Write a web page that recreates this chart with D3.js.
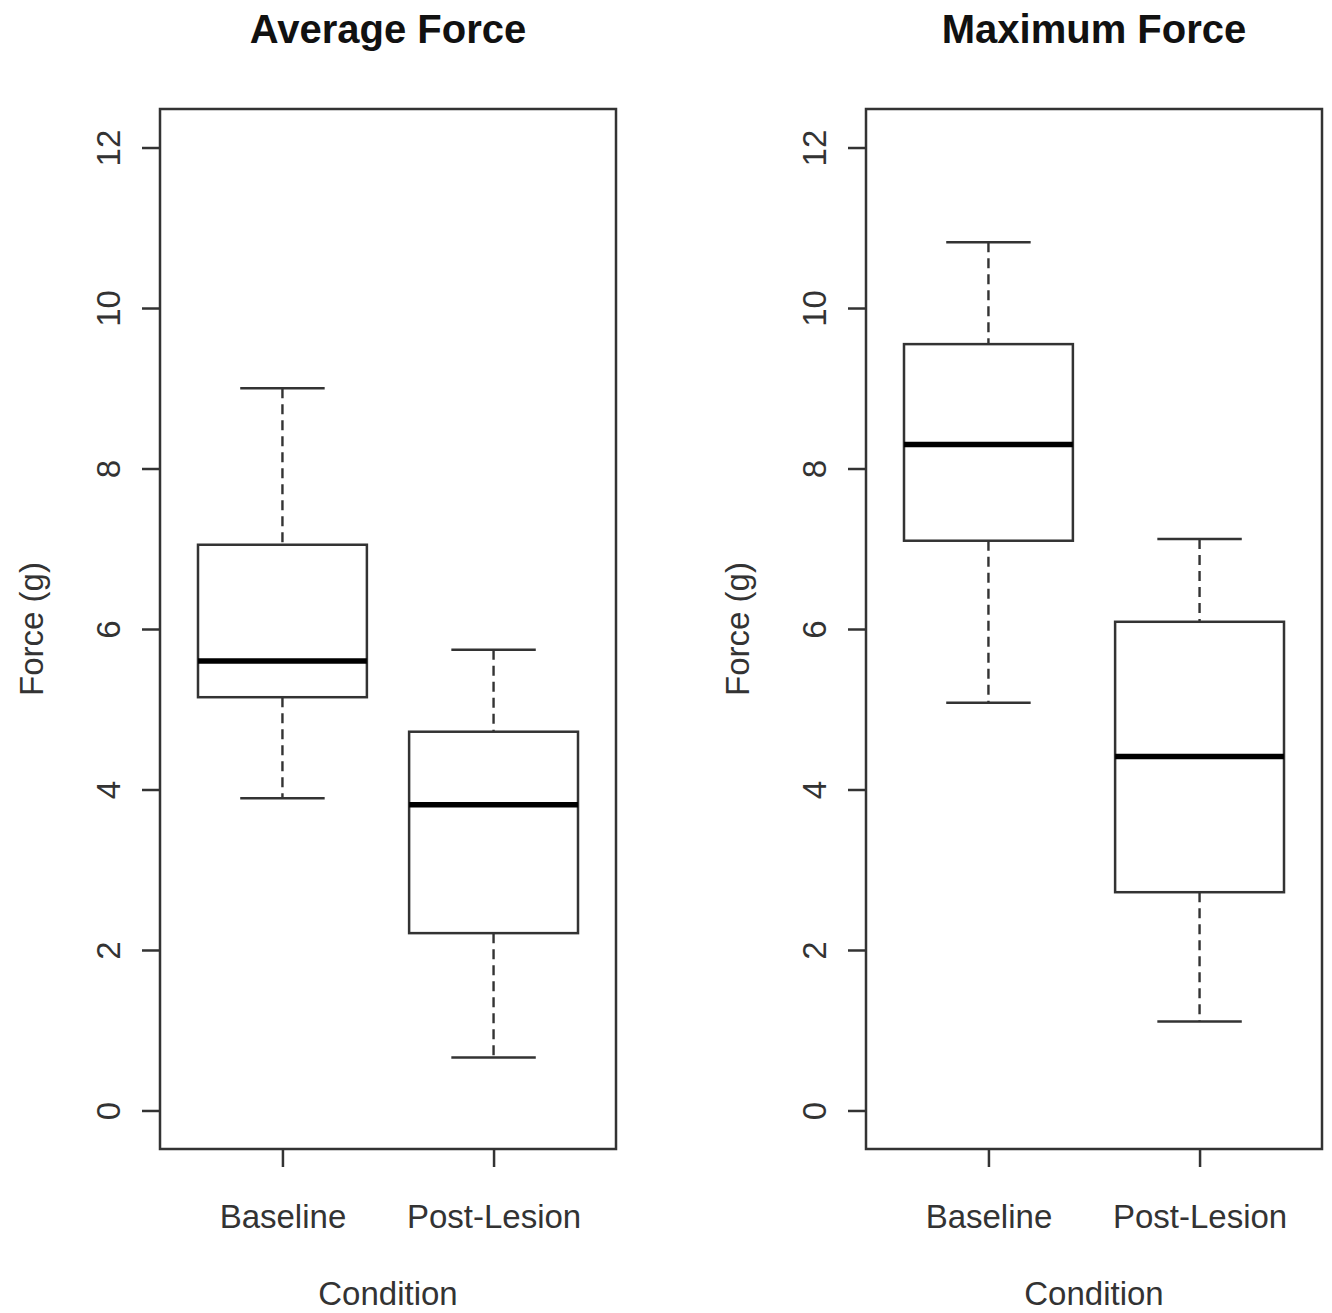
<!DOCTYPE html>
<html>
<head>
<meta charset="utf-8">
<script src="https://cdn.jsdelivr.net/npm/d3@7"></script>
<style>
  body { margin: 0; background: #fff; }
  text { font-family: "Liberation Sans", Arial, sans-serif; }
</style>
</head>
<body>
<div id="chart"></div>
<script>
// Data
const categories = ["Baseline", "Post-Lesion"];
const panelTitles = ["Average Force", "Maximum Force"];
const yTicks = [0, 2, 4, 6, 8, 10, 12];

// Average force: whisker low, Q1, median, Q3, whisker high
const avgLow = [3.89, 0.66];
const avgQ1 = [5.15, 2.21];
const avgMed = [5.6, 3.81];
const avgQ3 = [7.05, 4.72];
const avgHigh = [9.0, 5.74];

// Maximum force
const maxLow = [5.08, 1.11];
const maxQ1 = [7.1, 2.72];
const maxMed = [8.3, 4.41];
const maxQ3 = [9.55, 6.09];
const maxHigh = [10.82, 7.12];

const width = 1332, height = 1313;
const panelLeft = [160, 866];
const plotW = 456;
const plotTop = 109, plotBottom = 1149;
const lineCol = "#333";

const svg = d3.select("#chart").append("svg")
  .attr("width", width)
  .attr("height", height);

// R pads the range by 4% on each side
const y = d3.scaleLinear()
  .domain([-0.48, 12.48])
  .range([plotBottom, plotTop]);

const panels = [
  { title: panelTitles[0], low: avgLow, q1: avgQ1, med: avgMed, q3: avgQ3, high: avgHigh },
  { title: panelTitles[1], low: maxLow, q1: maxQ1, med: maxMed, q3: maxQ3, high: maxHigh }
];

panels.forEach((p, pi) => {
  const g = svg.append("g")
    .attr("transform", `translate(${panelLeft[pi]},0)`);

  const x = d3.scalePoint()
    .domain(categories)
    .range([0, plotW])
    .padding(0.58);
  const boxW = x.step() * 0.8;

  const stats = categories.map((c, i) => ({
    cat: c, low: p.low[i], q1: p.q1[i], med: p.med[i], q3: p.q3[i], high: p.high[i]
  }));

  // title
  g.append("text")
    .attr("x", plotW / 2)
    .attr("y", 43)
    .attr("text-anchor", "middle")
    .attr("font-size", 40)
    .attr("font-weight", "bold")
    .attr("fill", "#111")
    .text(p.title);

  // y axis, labels turned like R's default las=0
  const yAxis = g.append("g")
    .call(d3.axisLeft(y).tickValues(yTicks).tickSize(18).tickFormat(d3.format("d")));
  yAxis.select(".domain").remove();
  yAxis.selectAll(".tick line").attr("stroke", lineCol).attr("stroke-width", 2.5);
  yAxis.selectAll(".tick text")
    .attr("transform", "rotate(-90)")
    .attr("x", 0)
    .attr("y", -40)
    .attr("dy", 0)
    .attr("text-anchor", "middle")
    .attr("font-size", 33)
    .attr("fill", "#333");

  // x axis
  const xAxis = g.append("g")
    .attr("transform", `translate(0,${plotBottom})`)
    .call(d3.axisBottom(x).tickSize(18));
  xAxis.select(".domain").remove();
  xAxis.selectAll(".tick line").attr("stroke", lineCol).attr("stroke-width", 2.5);
  xAxis.selectAll(".tick text")
    .attr("y", 79)
    .attr("dy", 0)
    .attr("font-size", 33)
    .attr("fill", "#333");

  // axis titles
  g.append("text")
    .attr("transform", `translate(-117,${(plotTop + plotBottom) / 2}) rotate(-90)`)
    .attr("text-anchor", "middle")
    .attr("font-size", 33)
    .attr("fill", "#333")
    .text("Force (g)");

  g.append("text")
    .attr("x", plotW / 2)
    .attr("y", 1305)
    .attr("text-anchor", "middle")
    .attr("font-size", 33)
    .attr("fill", "#333")
    .text("Condition");

  // boxes
  const b = g.selectAll(".box").data(stats).enter().append("g").attr("class", "box");

  // dashed whiskers
  b.append("line")
    .attr("x1", d => x(d.cat)).attr("x2", d => x(d.cat))
    .attr("y1", d => y(d.high)).attr("y2", d => y(d.q3))
    .attr("stroke", lineCol).attr("stroke-width", 2.4)
    .attr("stroke-dasharray", "10,6");
  b.append("line")
    .attr("x1", d => x(d.cat)).attr("x2", d => x(d.cat))
    .attr("y1", d => y(d.q1)).attr("y2", d => y(d.low))
    .attr("stroke", lineCol).attr("stroke-width", 2.4)
    .attr("stroke-dasharray", "10,6");

  // caps, half the box width
  ["low", "high"].forEach(k => {
    b.append("line")
      .attr("x1", d => x(d.cat) - boxW / 4).attr("x2", d => x(d.cat) + boxW / 4)
      .attr("y1", d => y(d[k])).attr("y2", d => y(d[k]))
      .attr("stroke", lineCol).attr("stroke-width", 2.5);
  });

  b.append("rect")
    .attr("x", d => x(d.cat) - boxW / 2)
    .attr("width", boxW)
    .attr("y", d => y(d.q3))
    .attr("height", d => y(d.q1) - y(d.q3))
    .attr("fill", "#fff")
    .attr("stroke", lineCol)
    .attr("stroke-width", 2.5);

  b.append("line")
    .attr("x1", d => x(d.cat) - boxW / 2).attr("x2", d => x(d.cat) + boxW / 2)
    .attr("y1", d => y(d.med)).attr("y2", d => y(d.med))
    .attr("stroke", "#000").attr("stroke-width", 5.5);

  // frame
  g.append("rect")
    .attr("x", 0).attr("y", plotTop)
    .attr("width", plotW).attr("height", plotBottom - plotTop)
    .attr("fill", "none")
    .attr("stroke", lineCol)
    .attr("stroke-width", 2.5);
});
</script>
</body>
</html>
